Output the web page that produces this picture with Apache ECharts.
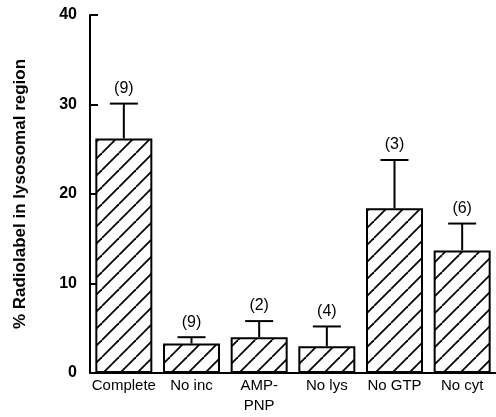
<!DOCTYPE html>
<html><head><meta charset="utf-8">
<script src="https://cdn.jsdelivr.net/npm/echarts@6/dist/echarts.min.js"></script>
<style>html,body{margin:0;padding:0;background:#fff}#c{width:496px;height:417px}</style>
</head><body><div id="c"></div>
<script>
const categories = ['Complete', 'No inc', 'AMP-\nPNP', 'No lys', 'No GTP', 'No cyt'];
const means = [26.2, 3.3, 4.0, 3.0, 18.4, 13.7];
const errorTops = [30.1, 4.0, 5.8, 5.2, 23.8, 16.7];
const counts = ['(9)', '(9)', '(2)', '(4)', '(3)', '(6)'];
const yTicks = [0, 10, 20, 30, 40];
const yTitle = '% Radiolabel in lysosomal region';

// hatch pattern
const tile = document.createElement('canvas');
const T = 17;
tile.width = T; tile.height = T;
const g = tile.getContext('2d');
g.fillStyle = '#fff'; g.fillRect(0, 0, T, T);
g.strokeStyle = '#000'; g.lineWidth = 1.8;
for (const off of [-T, 0, T]) {
  g.beginPath(); g.moveTo(off, T); g.lineTo(off + T, 0); g.stroke();
}

const FONT = "'Liberation Sans', Arial, Helvetica, sans-serif";
const chart = echarts.init(document.getElementById('c'), null, {renderer: 'canvas'});
const errData = means.map((m, i) => [i, m, errorTops[i]]);

chart.setOption({
  animation: false,
  backgroundColor: '#fff',
  grid: {left: 90, right: 0, top: 15, bottom: 44, containLabel: false},
  xAxis: {
    type: 'category',
    data: categories,
    axisLine: {lineStyle: {color: '#000', width: 2}},
    axisTick: {show: false},
    axisLabel: {color: '#000', fontFamily: FONT, fontSize: 15, margin: 3, lineHeight: 20, interval: 0}
  },
  yAxis: {
    type: 'value',
    min: yTicks[0], max: yTicks[yTicks.length - 1], interval: 10,
    name: yTitle,
    nameLocation: 'middle',
    nameGap: 61,
    nameTextStyle: {color: '#000', fontFamily: FONT, fontSize: 17, fontWeight: 'bold'},
    axisLine: {show: true, lineStyle: {color: '#000', width: 2}},
    axisTick: {show: true, inside: true, length: 8, lineStyle: {color: '#000', width: 2}},
    axisLabel: {color: '#000', fontFamily: FONT, fontSize: 16, fontWeight: 'bold', margin: 13},
    splitLine: {show: false}
  },
  series: [
    {
      type: 'bar',
      data: means,
      barWidth: 57,
      itemStyle: {color: {image: tile, repeat: 'repeat'}, borderColor: '#000', borderWidth: 2}
    },
    {
      type: 'custom',
      data: errData,
      z: 5,
      renderItem: function (params, api) {
        const i = api.value(0);
        const p0 = api.coord([i, api.value(1)]);
        const p1 = api.coord([i, api.value(2)]);
        const half = 14;
        return {
          type: 'group',
          children: [
            {type: 'line', shape: {x1: p0[0], y1: p0[1], x2: p1[0], y2: p1[1]}, style: {stroke: '#000', lineWidth: 2}},
            {type: 'line', shape: {x1: p1[0] - half, y1: p1[1], x2: p1[0] + half, y2: p1[1]}, style: {stroke: '#000', lineWidth: 2}},
            {type: 'text', x: p1[0], y: p1[1] - 15, style: {text: counts[i], fill: '#000', font: '16px ' + FONT, textAlign: 'center', textVerticalAlign: 'middle'}}
          ]
        };
      }
    }
  ]
});
</script></body></html>
